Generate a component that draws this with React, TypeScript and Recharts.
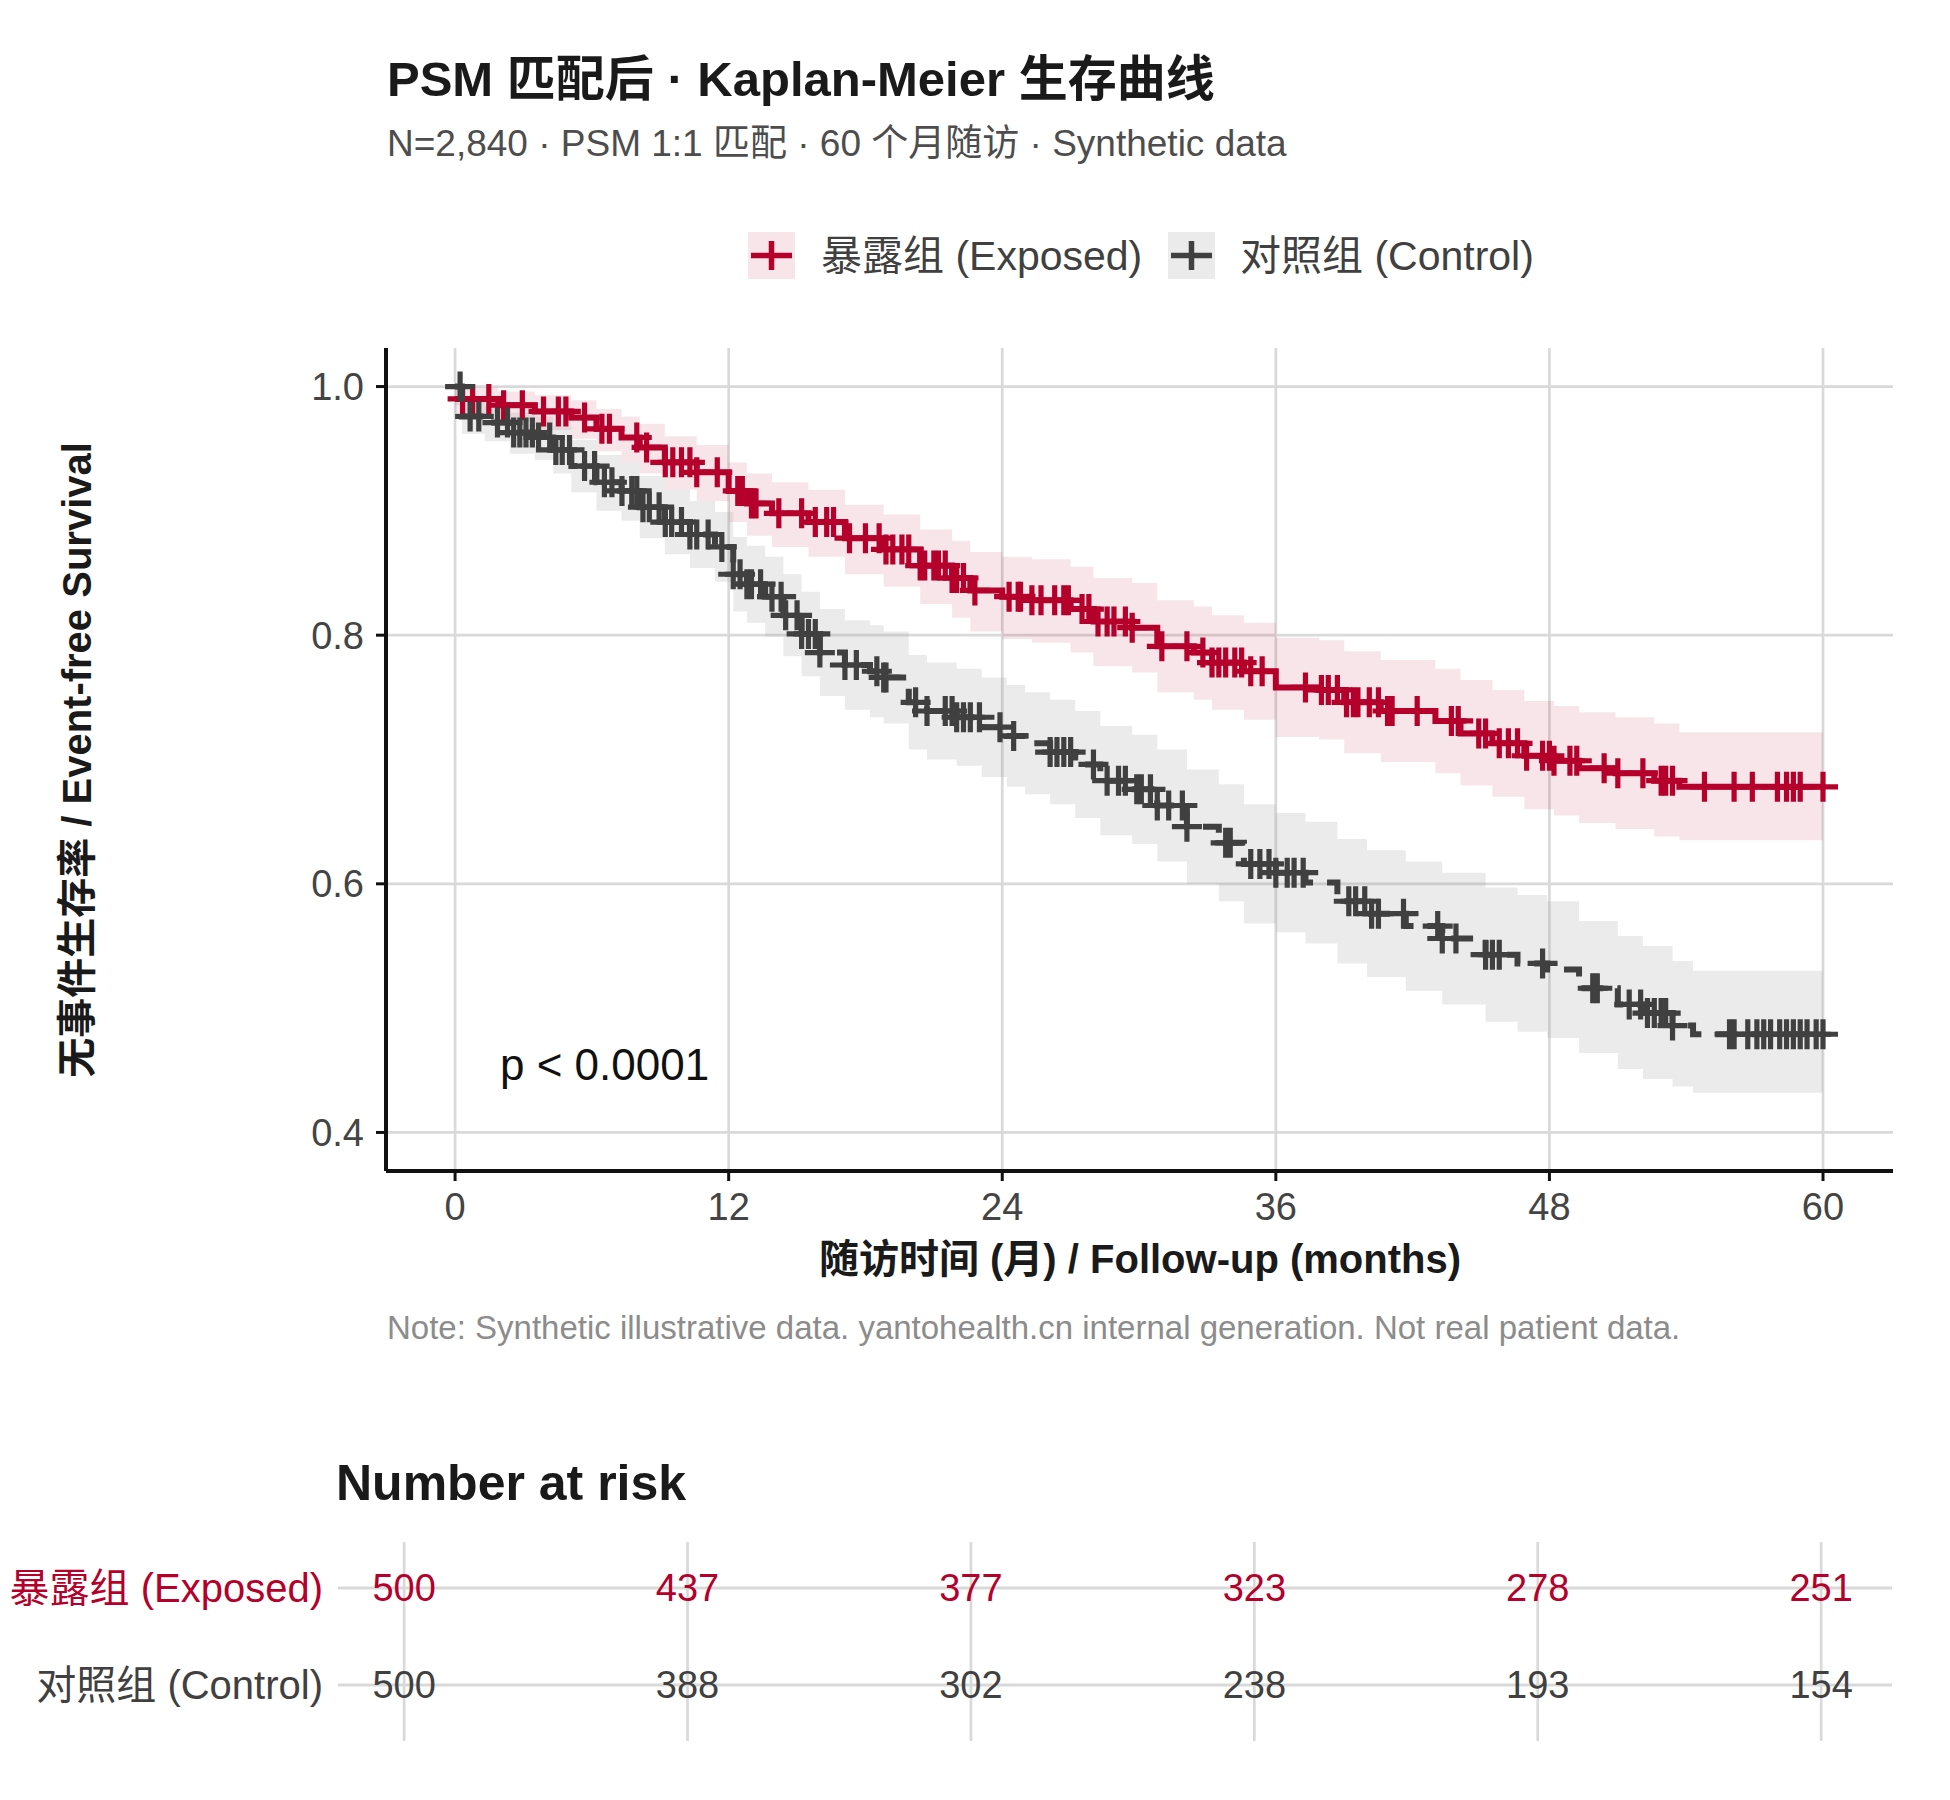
import React from 'react';
import { ComposedChart, Line, Area, Scatter, XAxis, YAxis, ReferenceLine } from 'recharts';

const RED = '#B4002B';
const GREY = '#404040';
const GRID = '#d9d9d9';
const FONT = '"Liberation Sans", Arial, "Noto Sans CJK SC", sans-serif';

const xTicks = [0, 12, 24, 36, 48, 60];
const yTicks = [0.4, 0.6, 0.8, 1.0];

// exposed group: KM steps (months, survival, 95% CI)
const exposedTime = [0, 1.9, 3.5, 5.1, 6.2, 7.3, 8.1, 9.2, 10.6, 12.0, 12.8, 13.9, 15.5, 17.1, 18.8, 20.4, 21.8, 22.6, 24.0, 25.3, 27.0, 28.0, 29.7, 30.8, 32.4, 33.2, 34.6, 36.0, 37.9, 39.0, 40.6, 43.0, 44.1, 45.5, 46.9, 48.2, 49.3, 50.9, 52.6, 53.7, 60.0];
const exposedSurv = [0.99, 0.985, 0.98, 0.975, 0.966, 0.959, 0.951, 0.939, 0.931, 0.916, 0.906, 0.898, 0.891, 0.878, 0.869, 0.856, 0.846, 0.836, 0.831, 0.828, 0.821, 0.811, 0.806, 0.791, 0.786, 0.778, 0.771, 0.758, 0.756, 0.746, 0.739, 0.731, 0.721, 0.713, 0.703, 0.699, 0.693, 0.689, 0.683, 0.678, 0.678];
const exposedLower = [0.979, 0.972, 0.965, 0.958, 0.948, 0.939, 0.930, 0.917, 0.908, 0.891, 0.880, 0.871, 0.863, 0.849, 0.839, 0.825, 0.814, 0.803, 0.797, 0.794, 0.786, 0.775, 0.770, 0.754, 0.748, 0.740, 0.732, 0.718, 0.716, 0.705, 0.698, 0.689, 0.679, 0.670, 0.660, 0.655, 0.649, 0.644, 0.638, 0.635, 0.635];
const exposedUpper = [0.999, 0.996, 0.993, 0.989, 0.982, 0.976, 0.970, 0.960, 0.953, 0.939, 0.930, 0.923, 0.917, 0.905, 0.897, 0.885, 0.876, 0.867, 0.863, 0.861, 0.855, 0.846, 0.842, 0.828, 0.823, 0.816, 0.810, 0.798, 0.796, 0.787, 0.780, 0.773, 0.764, 0.756, 0.747, 0.743, 0.738, 0.734, 0.729, 0.722, 0.722];
const exposedCensor = [0.33, 0.77, 1.48, 2.13, 2.95, 3.88, 4.53, 4.86, 5.68, 6.44, 6.77, 7.97, 8.4, 9.22, 9.55, 9.93, 10.3, 10.6, 11.5, 12.4, 12.6, 13.0, 13.2, 14.2, 15.2, 15.8, 16.3, 16.6, 17.3, 18.0, 18.6, 18.9, 19.2, 19.6, 19.9, 20.4, 20.6, 21.0, 21.2, 21.5, 21.8, 22.0, 22.3, 22.8, 24.3, 24.7, 24.8, 25.3, 25.7, 26.3, 26.7, 26.9, 27.5, 27.8, 28.2, 28.6, 28.9, 29.4, 29.7, 31.0, 32.1, 32.8, 33.2, 33.5, 33.8, 34.2, 34.5, 34.9, 35.4, 37.3, 38.0, 38.3, 38.7, 39.1, 39.4, 39.6, 40.1, 40.5, 40.9, 41.1, 42.2, 43.7, 44.0, 44.9, 45.2, 45.8, 46.2, 46.6, 47.0, 47.7, 48.0, 48.2, 48.9, 49.2, 50.4, 51.0, 52.1, 52.9, 53.1, 53.4, 54.8, 56.1, 56.9, 58.0, 58.4, 58.7, 59.0, 60.0];

// control group
const controlTime = [0, 0.3, 1.3, 2.4, 3.5, 4.3, 5.1, 6.2, 7.3, 8.1, 9.2, 10.3, 11.4, 12.2, 12.8, 13.6, 14.4, 15.2, 16.0, 17.1, 18.2, 18.8, 19.9, 20.7, 22.0, 23.1, 24.2, 25.0, 26.1, 27.2, 28.3, 29.7, 30.8, 32.1, 33.5, 34.6, 36.0, 37.3, 38.7, 40.0, 41.7, 43.3, 45.2, 46.6, 47.9, 49.3, 51.0, 52.1, 53.4, 54.3, 60.0];
const controlSurv = [1.0, 0.976, 0.971, 0.963, 0.959, 0.949, 0.936, 0.923, 0.916, 0.903, 0.891, 0.881, 0.871, 0.849, 0.841, 0.831, 0.816, 0.801, 0.786, 0.776, 0.771, 0.766, 0.746, 0.739, 0.734, 0.726, 0.719, 0.713, 0.706, 0.696, 0.683, 0.676, 0.663, 0.646, 0.633, 0.616, 0.609, 0.601, 0.586, 0.576, 0.566, 0.556, 0.543, 0.536, 0.531, 0.516, 0.503, 0.496, 0.486, 0.479, 0.479];
const controlLower = [0.985, 0.962, 0.956, 0.946, 0.941, 0.930, 0.915, 0.900, 0.892, 0.878, 0.865, 0.854, 0.843, 0.819, 0.810, 0.799, 0.783, 0.767, 0.751, 0.740, 0.734, 0.729, 0.708, 0.700, 0.695, 0.686, 0.678, 0.672, 0.664, 0.653, 0.639, 0.632, 0.618, 0.600, 0.586, 0.568, 0.561, 0.552, 0.536, 0.525, 0.514, 0.503, 0.489, 0.481, 0.476, 0.464, 0.451, 0.443, 0.437, 0.432, 0.432];
const controlUpper = [1.0, 0.989, 0.985, 0.979, 0.976, 0.968, 0.957, 0.945, 0.939, 0.928, 0.917, 0.908, 0.899, 0.879, 0.872, 0.863, 0.849, 0.835, 0.821, 0.812, 0.808, 0.803, 0.784, 0.778, 0.773, 0.766, 0.760, 0.754, 0.748, 0.739, 0.727, 0.720, 0.708, 0.692, 0.680, 0.664, 0.657, 0.650, 0.636, 0.627, 0.618, 0.609, 0.597, 0.591, 0.586, 0.570, 0.558, 0.550, 0.538, 0.530, 0.530];
const controlCensor = [0.22, 0.66, 1.04, 1.86, 2.3, 2.57, 2.84, 3.11, 3.39, 3.66, 4.15, 4.42, 4.7, 5.02, 5.68, 6.12, 6.55, 6.88, 7.32, 7.75, 7.97, 8.24, 8.52, 8.95, 9.22, 9.5, 9.93, 10.3, 10.6, 11.1, 11.7, 12.2, 12.5, 12.8, 13.0, 13.4, 13.9, 14.3, 14.5, 15.0, 15.2, 15.5, 15.8, 16.0, 17.1, 17.6, 18.5, 18.8, 18.9, 20.2, 20.7, 21.5, 21.8, 22.0, 22.3, 22.6, 23.0, 23.9, 24.5, 26.1, 26.4, 26.7, 27.0, 28.0, 28.6, 29.1, 29.4, 29.9, 30.1, 30.5, 30.8, 31.3, 31.9, 32.1, 33.8, 34.0, 34.9, 35.3, 35.7, 36.0, 36.5, 36.8, 37.2, 39.2, 39.5, 39.9, 40.2, 40.5, 41.6, 43.1, 43.3, 43.9, 45.2, 45.5, 45.8, 47.7, 49.9, 50.1, 51.5, 52.0, 52.3, 52.6, 52.9, 53.1, 53.4, 55.9, 56.1, 56.7, 57.1, 57.4, 57.7, 58.1, 58.4, 58.7, 59.0, 59.3, 59.7, 60.0];

// number at risk
const riskExposed = [500, 437, 377, 323, 278, 251];
const riskControl = [500, 388, 302, 238, 193, 154];

const curveRows = (time: number[], surv: number[], lo: number[], hi: number[]) =>
  time.map((t, i) => ({ t, s: surv[i], band: [lo[i], hi[i]] }));

// survival value of the step curve at time t
const survAt = (time: number[], surv: number[], t: number) => {
  let v = surv[0];
  for (let i = 0; i < time.length; i++) if (time[i] <= t) v = surv[i];
  return v;
};
const censorRows = (censor: number[], time: number[], surv: number[]) =>
  censor.map((t) => ({ t, s: survAt(time, surv, t) }));

const exposedRows = curveRows(exposedTime, exposedSurv, exposedLower, exposedUpper);
const controlRows = curveRows(controlTime, controlSurv, controlLower, controlUpper);
const exposedMarks = censorRows(exposedCensor, exposedTime, exposedSurv);
const controlMarks = censorRows(controlCensor, controlTime, controlSurv);

const riskRows = (counts: number[], row: number) => xTicks.map((t, i) => ({ t, row, n: counts[i] }));

const plus = (color: string) => (props: any) => {
  const { cx, cy } = props;
  if (cx == null || cy == null) return <g />;
  const a = 15;
  return <path d={`M${cx - a},${cy}H${cx + a}M${cx},${cy - a}V${cy + a}`} stroke={color} strokeWidth={5.2} fill="none" />;
};

const W = 1950;
const H = 1300;
const MARGIN = { top: 348, right: 57, left: 286, bottom: 29 };

function Layer({ data, axes, children }: { data: any[]; axes?: boolean; children?: React.ReactNode }) {
  const tickStyle = { fill: '#444444', fontSize: 38, fontFamily: FONT };
  return (
    <div style={{ position: 'absolute', left: 0, top: 0 }}>
      <ComposedChart width={W} height={H} data={data} margin={MARGIN}>
        <XAxis
          type="number"
          dataKey="t"
          domain={[-3.03, 63.07]}
          allowDataOverflow
          ticks={xTicks}
          height={100}
          tick={axes ? tickStyle : false}
          axisLine={axes ? { stroke: '#111', strokeWidth: 4 } : false}
          tickLine={axes ? { stroke: '#111', strokeWidth: 3 } : false}
          tickSize={10}
          tickMargin={12}
        />
        <YAxis
          type="number"
          domain={[0.369, 1.031]}
          allowDataOverflow
          ticks={yTicks}
          width={100}
          tick={axes ? tickStyle : false}
          tickFormatter={(v: number) => v.toFixed(1)}
          axisLine={axes ? { stroke: '#111', strokeWidth: 4 } : false}
          tickLine={axes ? { stroke: '#111', strokeWidth: 3 } : false}
          tickSize={10}
          tickMargin={12}
        />
        {axes && xTicks.map((t) => <ReferenceLine key={`x${t}`} x={t} stroke={GRID} strokeWidth={2.7} />)}
        {axes && yTicks.map((v) => <ReferenceLine key={`y${v}`} y={v} stroke={GRID} strokeWidth={2.7} />)}
        {children}
      </ComposedChart>
    </div>
  );
}

const RISK_MARGIN = { top: 42, right: 58, left: 38, bottom: 59 };

function RiskTable() {
  const rowLabel = (props: any) => {
    const v = props.payload.value;
    return (
      <text x={props.x} y={props.y} textAnchor="end" dominantBaseline="central" fontSize={40} fontFamily={FONT} fill={v === 1 ? RED : GREY}>
        {v === 1 ? '暴露组 (Exposed)' : '对照组 (Control)'}
      </text>
    );
  };
  const count = (color: string) => (props: any) => {
    const { cx, cy, payload } = props;
    return (
      <text x={cx} y={cy} textAnchor="middle" dominantBaseline="central" fontSize={38} fontFamily={FONT} fill={color}>
        {payload.n}
      </text>
    );
  };
  return (
    <div style={{ position: 'absolute', left: 0, top: 1500 }}>
      <ComposedChart width={W} height={300} margin={RISK_MARGIN}>
        <XAxis type="number" dataKey="t" domain={[-2.8, 63]} allowDataOverflow ticks={xTicks} height={0} tick={false} axisLine={false} tickLine={false} />
        <YAxis type="number" dataKey="row" domain={[-0.577, 1.474]} allowDataOverflow ticks={[0, 1]} width={300} tick={rowLabel} axisLine={false} tickLine={false} tickSize={0} tickMargin={15} />
        {xTicks.map((t) => <ReferenceLine key={`x${t}`} x={t} stroke={GRID} strokeWidth={2.7} />)}
        {[0, 1].map((v) => <ReferenceLine key={`y${v}`} y={v} stroke={GRID} strokeWidth={3} />)}
        <Scatter data={riskRows(riskExposed, 1)} dataKey="row" shape={count(RED)} isAnimationActive={false} />
        <Scatter data={riskRows(riskControl, 0)} dataKey="row" shape={count(GREY)} isAnimationActive={false} />
      </ComposedChart>
    </div>
  );
}

function Texts() {
  return (
    <svg width={W} height={1800} style={{ position: 'absolute', left: 0, top: 0 }} fontFamily={FONT}>
      <text x={387} y={96} fontSize={49} fontWeight="bold" fill="#1a1a1a">PSM 匹配后 · Kaplan-Meier 生存曲线</text>
      <text x={387} y={156} fontSize={37} fill="#4d4d4d">N=2,840 · PSM 1:1 匹配 · 60 个月随访 · Synthetic data</text>

      <rect x={748} y={232} width={47} height={47} fill={RED} fillOpacity={0.1} />
      <path d="M751,255.5H792M771.5,241V270" stroke={RED} strokeWidth={5.5} />
      <text x={821} y={270} fontSize={41} fill={GREY}>暴露组 (Exposed)</text>
      <rect x={1168} y={232} width={47} height={47} fill="#ebebeb" />
      <path d="M1171,255.5H1212M1191.5,241V270" stroke={GREY} strokeWidth={5.5} />
      <text x={1240} y={270} fontSize={41} fill={GREY}>对照组 (Control)</text>

      <text transform="translate(91,760) rotate(-90)" textAnchor="middle" fontSize={40} fontWeight="bold" fill="#1a1a1a">
        无事件生存率 / Event-free Survival
      </text>
      <text x={1140} y={1273} textAnchor="middle" fontSize={40} fontWeight="bold" fill="#1a1a1a">
        随访时间 (月) / Follow-up (months)
      </text>
      <text x={500} y={1080} fontSize={44} fill="#111">p &lt; 0.0001</text>
      <text x={387} y={1339} fontSize={33} fill="#8c8c8c">
        Note: Synthetic illustrative data. yantohealth.cn internal generation. Not real patient data.
      </text>
      <text x={336} y={1500} fontSize={50} fontWeight="bold" fill="#1a1a1a">Number at risk</text>
    </svg>
  );
}

export default function App() {
  return (
    <div style={{ position: 'absolute', left: 0, top: 0, width: W, height: 1800, background: '#fff', fontFamily: FONT }}>
      <Layer data={exposedRows} axes />
      <Layer data={exposedRows}>
        <Area type="stepAfter" dataKey="band" stroke="none" fill={RED} fillOpacity={0.1} isAnimationActive={false} />
      </Layer>
      <Layer data={controlRows}>
        <Area type="stepAfter" dataKey="band" stroke="none" fill="#9a9a9a" fillOpacity={0.2} isAnimationActive={false} />
      </Layer>
      <Layer data={exposedRows}>
        <Line type="stepAfter" dataKey="s" stroke={RED} strokeWidth={6} dot={false} isAnimationActive={false} />
        <Scatter data={exposedMarks} dataKey="s" shape={plus(RED)} isAnimationActive={false} />
      </Layer>
      <Layer data={controlRows}>
        <Line type="stepAfter" dataKey="s" stroke={GREY} strokeWidth={6} strokeDasharray="22 14" dot={false} isAnimationActive={false} />
        <Scatter data={controlMarks} dataKey="s" shape={plus(GREY)} isAnimationActive={false} />
      </Layer>
      <RiskTable />
      <Texts />
    </div>
  );
}
